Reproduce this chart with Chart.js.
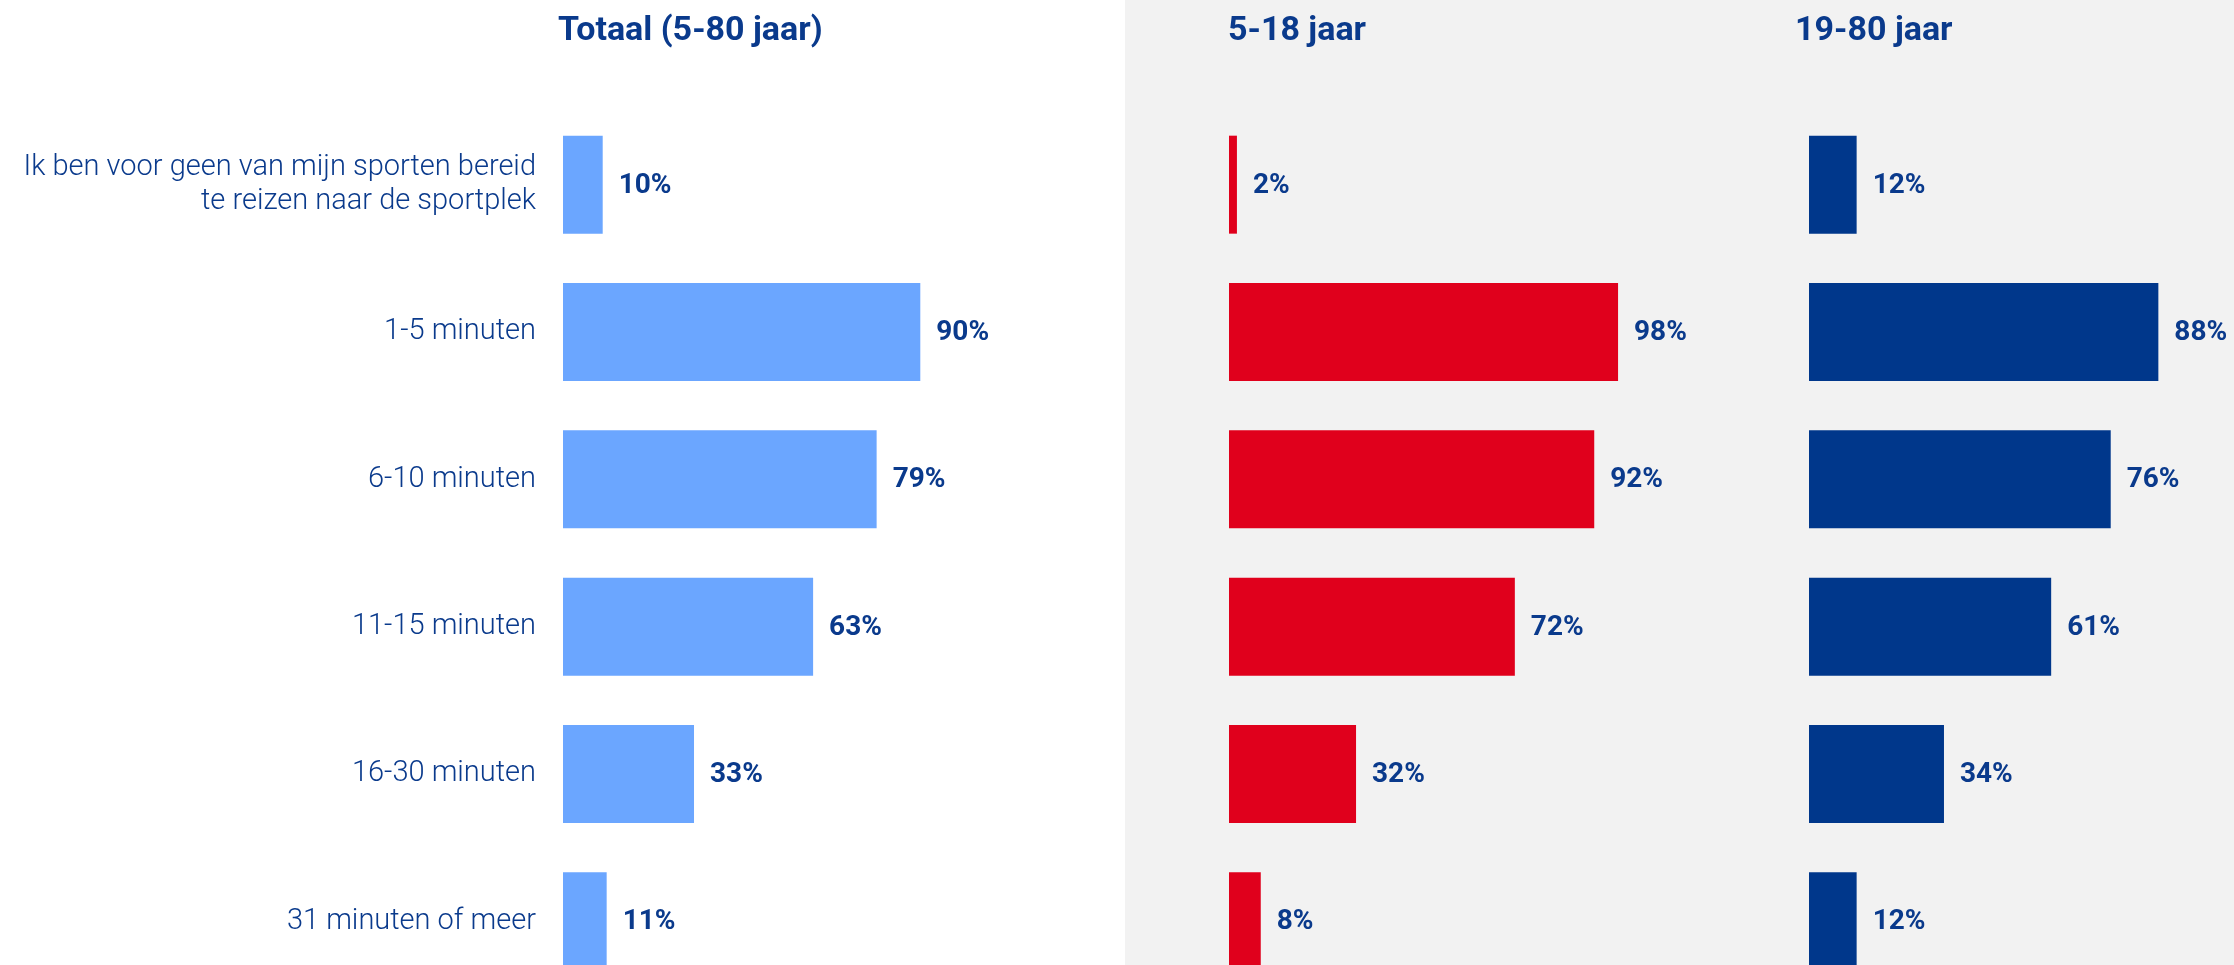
<!DOCTYPE html>
<html>
<head>
<meta charset="utf-8">
<script src="https://cdn.jsdelivr.net/npm/chart.js@4/dist/chart.umd.min.js"></script>
<style>
  html, body { margin: 0; padding: 0; overflow: hidden; background: #ffffff; }
  body { width: 2234px; height: 965px; position: relative; font-family: Roboto, sans-serif; }
  #grey { position: absolute; left: 1125px; top: 0; width: 1109px; height: 965px; background: #f2f2f2; }
  .panel { position: absolute; top: 0; height: 1000px; }
  .title { position: absolute; top: 11px; font: 700 34px/34px Roboto, sans-serif; color: #0a3a8c; white-space: nowrap; }
</style>
</head>
<body>
<div id="grey"></div>
<div class="panel" style="left:0;width:1124px"><canvas id="chartTotal"></canvas></div>
<div class="panel" style="left:1125px;width:575px"><canvas id="chartYoung"></canvas></div>
<div class="panel" style="left:1700px;width:534px"><canvas id="chartAdult"></canvas></div>
<div class="title" style="left:558px">Totaal (5-80 jaar)</div>
<div class="title" style="left:1228px">5-18 jaar</div>
<div class="title" style="left:1795px">19-80 jaar</div>

<script>
const categories = [
    ['Ik ben voor geen van mijn sporten bereid', 'te reizen naar de sportplek'],
    '1-5 minuten',
    '6-10 minuten',
    '11-15 minuten',
    '16-30 minuten',
    '31 minuten of meer'
];
const totalValues = [10, 90, 79, 63, 33, 11];
const youngValues = [2, 98, 92, 72, 32, 8];
const adultValues = [12, 88, 76, 61, 34, 12];

const textColor = '#0a3a8c';

// waarde rechts naast elke balk
const valueLabels = {
    id: 'valueLabels',
    afterDatasetsDraw(chart) {
        const ctx = chart.ctx;
        const meta = chart.getDatasetMeta(0);
        const values = chart.data.datasets[0].data;
        ctx.save();
        ctx.font = '700 28px Roboto, sans-serif';
        ctx.fillStyle = textColor;
        ctx.textAlign = 'left';
        ctx.textBaseline = 'middle';
        meta.data.forEach((bar, i) => {
            ctx.fillText(values[i] + '%', bar.x + 16, bar.y + 1);
        });
        ctx.restore();
    }
};

function makeChart(id, values, color, showLabels, padLeft, padRight) {
    const ctx = document.getElementById(id).getContext('2d');
    return new Chart(ctx, {
        type: 'bar',
        data: {
            labels: categories,
            datasets: [{
                data: values,
                backgroundColor: color,
                borderWidth: 0,
                categoryPercentage: 1,
                barPercentage: 0.665
            }]
        },
        options: {
            indexAxis: 'y',
            responsive: true,
            maintainAspectRatio: false,
            animation: false,
            layout: {
                padding: { top: 111, bottom: 5, left: padLeft, right: padRight }
            },
            plugins: {
                legend: { display: false },
                tooltip: { enabled: false }
            },
            scales: {
                x: {
                    display: false,
                    min: 0,
                    max: 100
                },
                y: {
                    display: showLabels,
                    grid: { display: false, drawTicks: false },
                    border: { display: false },
                    ticks: {
                        autoSkip: false,
                        padding: 27,
                        color: textColor,
                        font: { family: 'Roboto', weight: 300, size: 29, lineHeight: 1.16 }
                    },
                    afterFit: function(axis) {
                        if (showLabels) {
                            axis.width = 563;
                            axis.paddingTop = 0;
                            axis.paddingBottom = 0;
                        }
                    }
                }
            }
        },
        plugins: [valueLabels]
    });
}

makeChart('chartTotal', totalValues, '#6ba6ff', true, 0, 164);
makeChart('chartYoung', youngValues, '#e0001c', false, 104, 74);
makeChart('chartAdult', adultValues, '#00378b', false, 109, 28);
</script>
</body>
</html>
